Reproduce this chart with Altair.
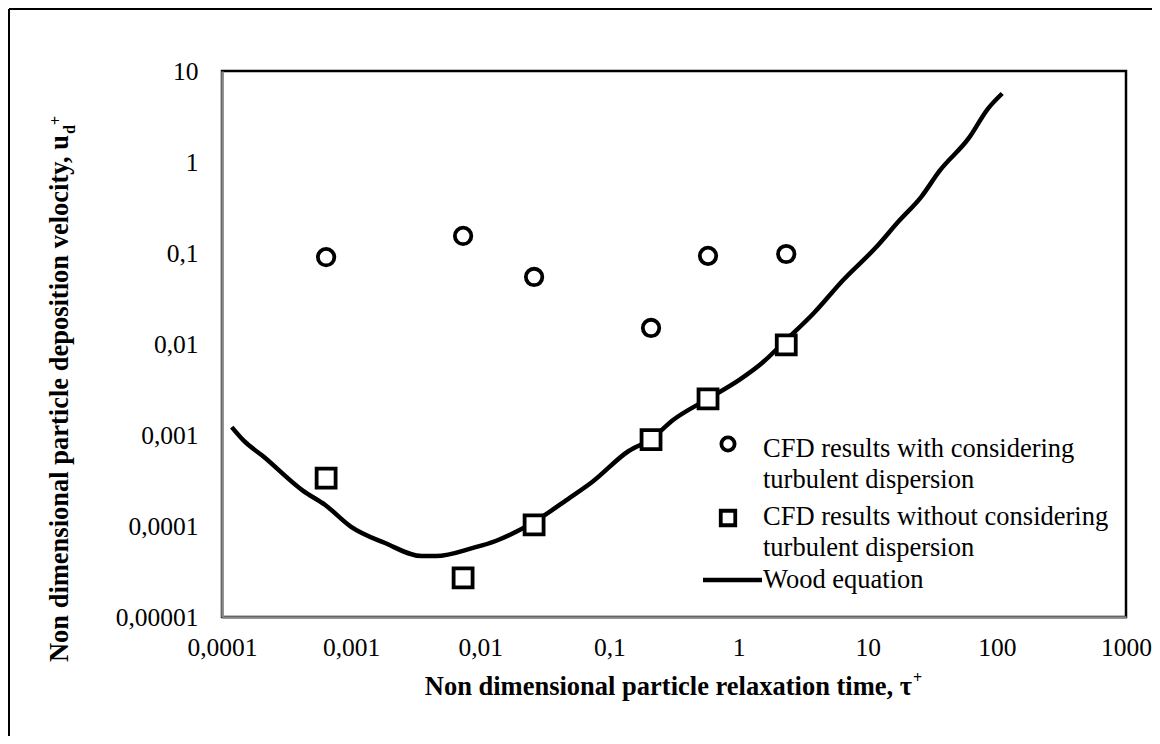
import altair as alt
import pandas as pd

# ---- data ----
cfd_x = [0.00064, 0.00736, 0.0261, 0.21, 0.58, 2.34]
with_disp_y = [0.090, 0.154, 0.0545, 0.0150, 0.093, 0.0975]
without_disp_y = [0.000336, 0.0000269, 0.000103, 0.00089, 0.00249, 0.0098]

wood_x = [0.000119, 0.000148, 0.000206, 0.000425, 0.00063, 0.001, 0.00183, 0.00352,
          0.00455, 0.0088, 0.01316, 0.0261, 0.0492, 0.0735, 0.141, 0.21, 0.311, 0.58,
          1.02, 1.52, 2.34, 3.83, 6.46, 11.7, 17.5, 25.9, 36.0, 61.0, 84.9, 110.0]
wood_y = [0.00122, 0.00086, 0.00059, 0.000243, 0.00017, 0.000098, 0.000065, 0.0000468,
          0.0000468, 0.0000575, 0.0000684, 0.000111, 0.000204, 0.000305, 0.000667, 0.0009,
          0.00146, 0.0025, 0.00406, 0.00618, 0.0111, 0.0219, 0.0505, 0.117, 0.226, 0.412,
          0.798, 1.85, 3.82, 5.66]

x_ticks = [0.0001, 0.001, 0.01, 0.1, 1, 10, 100, 1000]
y_ticks = [0.00001, 0.0001, 0.001, 0.01, 0.1, 1, 10]

legend_labels = ["CFD results with considering", "turbulent dispersion",
                 "CFD results without considering", "turbulent dispersion",
                 "Wood equation"]
x_title = "Non dimensional particle relaxation time, τ"
y_title = "Non dimensional particle deposition velocity, u"

FONT = "Liberation Serif, Times New Roman, serif"

cfd_df = pd.DataFrame({"x": cfd_x, "with": with_disp_y, "without": without_disp_y})
wood_df = pd.DataFrame({"x": wood_x, "y": wood_y})

label_expr = "replace(format(datum.value, '~g'), '.', ',')"

xscale = alt.Scale(type="log", domain=[0.0001, 1000], nice=False)
yscale = alt.Scale(type="log", domain=[0.00001, 10], nice=False)

xaxis = alt.Axis(values=x_ticks, labelExpr=label_expr, title=None, grid=False, ticks=False,
                 labelFont=FONT, labelFontSize=25.5, labelColor="black", labelPadding=18,
                 domainColor="#878787", domainWidth=2.5, labelOverlap=False,
                 labelFlush=False, labelBound=False)
yaxis = alt.Axis(values=y_ticks, labelExpr=label_expr, title=None, grid=False, ticks=False,
                 labelFont=FONT, labelFontSize=25.5, labelColor="black", labelPadding=24,
                 domainColor="#878787", domainWidth=2.5, labelOverlap=False,
                 labelFlush=False, labelBound=False)

line = alt.Chart(wood_df).mark_line(color="black", strokeWidth=4.5, interpolate="monotone").encode(
    x=alt.X("x:Q", scale=xscale, axis=xaxis),
    y=alt.Y("y:Q", scale=yscale, axis=yaxis),
    order="x:Q",
)

circles = alt.Chart(cfd_df).mark_point(shape="circle", filled=False, color="black",
                                       strokeWidth=3.8, size=270, opacity=1).encode(
    x=alt.X("x:Q", scale=xscale),
    y=alt.Y("with:Q", scale=yscale),
)

squares = alt.Chart(cfd_df).mark_point(shape="square", filled=True, fill="white",
                                       stroke="black", strokeWidth=3.8, size=360,
                                       opacity=1).encode(
    x=alt.X("x:Q", scale=xscale),
    y=alt.Y("without:Q", scale=yscale),
)

one = alt.Data(values=[{}])

def txt(text, x, y, size=26, weight="normal", align="left", baseline="middle", angle=0):
    kw = dict(text=text, font=FONT, fontSize=size, fontWeight=weight, align=align,
              baseline=baseline, color="black")
    if angle:
        kw["angle"] = angle
    return alt.Chart(one).mark_text(**kw).encode(x=alt.value(x), y=alt.value(y))

# legend
leg_circle = alt.Chart(one).mark_point(shape="circle", filled=False, color="black",
                                       strokeWidth=3.8, size=175, opacity=1).encode(
    x=alt.value(506), y=alt.value(373))
leg_square = alt.Chart(one).mark_point(shape="square", filled=False, color="black",
                                       strokeWidth=3.8, size=210, opacity=1).encode(
    x=alt.value(506), y=alt.value(447))
leg_line = alt.Chart(one).mark_rule(color="black", strokeWidth=4.5).encode(
    x=alt.value(481), x2=alt.value(540), y=alt.value(509))
leg_ys = [378, 409, 446, 477, 509]
leg_texts = [txt(t, 541, yy, size=26.5) for t, yy in zip(legend_labels, leg_ys)]

# axis titles
xt_main = txt(x_title, 690, 624, size=26.5, weight="bold", align="right", baseline="alphabetic")
xt_sup = txt("+", 691, 612, size=16, weight="bold", align="left", baseline="alphabetic")
yt_main = txt(y_title, -154, 64, size=26.5, weight="bold", align="right",
              baseline="alphabetic", angle=270)
yt_sub = txt("d", -147, 63, size=16, weight="bold", align="left",
             baseline="alphabetic", angle=270)
yt_sup = txt("+", -161, 54, size=16, weight="bold", align="left",
             baseline="alphabetic", angle=270)

# outer frame (left and top edges of the figure border)
frame_top = alt.Chart(one).mark_rule(color="black", strokeWidth=2).encode(
    x=alt.value(-213), x2=alt.value(930), y=alt.value(-62))
frame_left = alt.Chart(one).mark_rule(color="black", strokeWidth=2).encode(
    x=alt.value(-213), y=alt.value(-62), y2=alt.value(665))

chart = alt.layer(
    line, squares, circles, leg_circle, leg_square, leg_line, *leg_texts,
    xt_main, xt_sup, yt_main, yt_sub, yt_sup, frame_top, frame_left,
).properties(
    width=904, height=546,
    autosize=alt.AutoSizeParams(type="none"),
    padding={"left": 214, "top": 63, "right": 26, "bottom": 119},
    background="white",
).configure_view(stroke="black", strokeWidth=2.5)

chart.save("out.html", embed_options={"renderer": "svg", "actions": False})
